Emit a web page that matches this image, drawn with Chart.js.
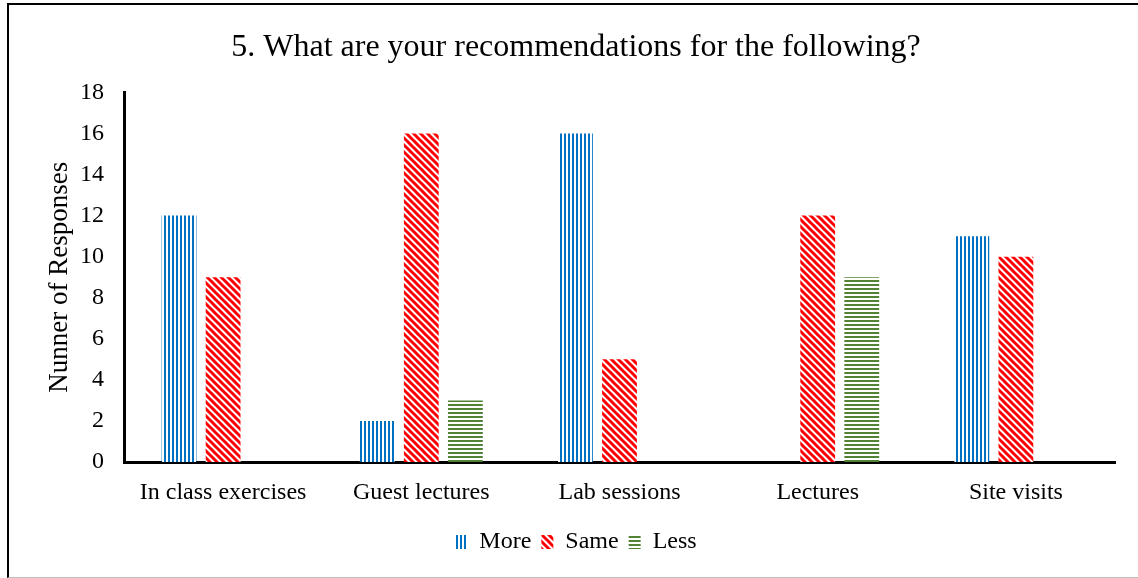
<!DOCTYPE html>
<html>
<head>
<meta charset="utf-8">
<script src="https://cdn.jsdelivr.net/npm/chart.js@4"></script>
<style>
html,body{margin:0;padding:0;background:#fff;}
#wrap{position:relative;width:1138px;height:578px;}
#frame{position:absolute;left:7px;top:3px;width:1140px;height:572px;border-left:2px solid #000;border-top:2px solid #000;border-bottom:1px solid #bdbdbd;box-sizing:content-box;pointer-events:none;}
canvas{position:absolute;left:0;top:0;}
</style>
</head>
<body>
<div id="wrap">
<canvas id="c" width="1138" height="578"></canvas>
<div id="frame"></div>
</div>
<script>
const categories = ["In class exercises", "Guest lectures", "Lab sessions", "Lectures", "Site visits"];
const seriesNames = ["More", "Same", "Less"];
const moreValues = [12, 2, 16, 0, 11];
const sameValues = [9, 16, 5, 12, 10];
const lessValues = [0, 3, 0, 9, 0];
const yTicks = [0, 2, 4, 6, 8, 10, 12, 14, 16, 18];

function makePattern(kind) {
  const t = document.createElement('canvas');
  const ctx = t.getContext('2d');
  if (kind === 'vert') {
    t.width = 4; t.height = 4;
    ctx.fillStyle = '#fff'; ctx.fillRect(0,0,4,4);
    ctx.fillStyle = '#0070C0'; ctx.fillRect(0,0,2,4);
  } else if (kind === 'horiz') {
    t.width = 4; t.height = 4;
    ctx.fillStyle = '#fff'; ctx.fillRect(0,0,4,4);
    ctx.fillStyle = '#548235'; ctx.fillRect(0,0,4,2);
  } else {
    const s = 7;
    t.width = s; t.height = s;
    ctx.fillStyle = '#fff'; ctx.fillRect(0,0,s,s);
    ctx.strokeStyle = '#FF0000'; ctx.lineWidth = 3;
    for (let k = -1; k <= 1; k++) {
      ctx.beginPath();
      ctx.moveTo(k*s - 1, -1);
      ctx.lineTo(k*s + s + 1, s + 1);
      ctx.stroke();
    }
  }
  return document.createElement('canvas').getContext('2d').createPattern(t, 'repeat');
}

const pats = [makePattern('vert'), makePattern('diag'), makePattern('horiz')];
const FONT = "'Liberation Serif', 'Times New Roman', serif";

new Chart(document.getElementById('c'), {
  type: 'bar',
  data: {
    labels: categories,
    datasets: [
      {label: seriesNames[0], data: moreValues, backgroundColor: pats[0], borderWidth: 0},
      {label: seriesNames[1], data: sameValues, backgroundColor: pats[1], borderWidth: 0},
      {label: seriesNames[2], data: lessValues, backgroundColor: pats[2], borderWidth: 0}
    ]
  },
  options: {
    responsive: false,
    animation: false,
    devicePixelRatio: 1,
    layout: {padding: {left: 37, right: 23, top: 0, bottom: 14}},
    datasets: {bar: {categoryPercentage: 0.667, barPercentage: 0.79}},
    plugins: {
      title: {
        display: true,
        text: "5. What are your recommendations for the following?",
        color: '#000',
        font: {family: FONT, size: 32, weight: 'normal', lineHeight: 1.2},
        padding: {top: 28, bottom: 26}
      },
      legend: {
        position: 'bottom',
        labels: {
          color: '#000',
          font: {family: FONT, size: 24},
          boxWidth: 12, boxHeight: 14,
          padding: 10
        }
      },
      tooltip: {enabled: false}
    },
    scales: {
      x: {
        grid: {display: false, drawTicks: false},
        border: {display: true, color: '#000', width: 3},
        ticks: {color: '#000', font: {family: FONT, size: 24}, padding: 16, maxRotation: 0},
        afterFit: s => { s.height = 58; }
      },
      y: {
        min: 0, max: 18,
        afterBuildTicks: s => { s.ticks = yTicks.map(v => ({value: v})); },
        grid: {display: false, drawTicks: false},
        border: {display: true, color: '#000', width: 3},
        ticks: {color: '#000', font: {family: FONT, size: 24}, padding: 20},
        title: {display: true, text: 'Nunner of Responses', color: '#000', font: {family: FONT, size: 27}, padding: {top: 7, bottom: 0}},
        afterFit: s => { s.width = 87; }
      }
    }
  }
});
</script>
</body>
</html>
